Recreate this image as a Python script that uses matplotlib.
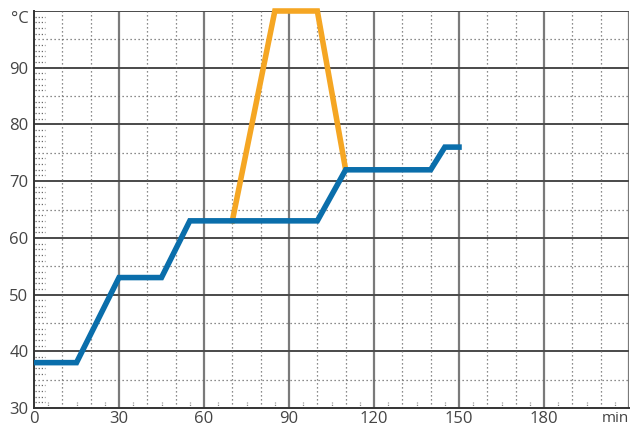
import matplotlib
matplotlib.use("Agg")
import matplotlib.pyplot as plt

blue_x = [0, 15, 30, 45, 55, 100, 110, 140, 145, 150]
blue_y = [38, 38, 53, 53, 63, 63, 72, 72, 76, 76]
orange_x = [70, 85, 100, 110]
orange_y = [63, 100, 100, 72]
x_ticks = [0, 30, 60, 90, 120, 150, 180]
y_ticks = [30, 40, 50, 60, 70, 80, 90]
x_unit = "min"
y_unit = "°C"

plt.rcParams['font.family'] = ['Open Sans', 'DejaVu Sans']
fig = plt.figure(figsize=(6.31, 4.28), dpi=100)
ax = fig.add_axes([34/631, 1-408/428, (629-34)/631, (408-11)/428])
ax.set_xlim(0, 210)
ax.set_ylim(30, 100)

# grids
for xv in range(30, 211, 30):
    ax.axvline(xv, color='#7a7a7a', lw=1.6, zorder=1)
for yv in range(40, 101, 10):
    ax.axhline(yv, color='#4a4a4a', lw=1.4, zorder=1)
for xv in range(10, 211, 10):
    if xv % 30:
        ax.axvline(xv, color='#666666', lw=0.9, ls=(0, (1, 2.2)), zorder=1)
for yv in range(35, 100, 10):
    ax.axhline(yv, color='#666666', lw=0.9, ls=(0, (1, 2.2)), zorder=1)
# small inner ticks
for yv in range(31, 100):
    if yv % 5:
        ax.plot([0.5, 4], [yv, yv], color='#666666', lw=0.9, ls=(0, (1, 1.5)), zorder=1)
for xv in range(5, 210, 10):
    ax.plot([xv, xv], [30, 31], color='#888888', lw=0.9, ls=(0, (1, 1)), zorder=1)

ax.plot(orange_x, orange_y, color='#f5a623', lw=4.0, solid_joinstyle='miter', zorder=3, clip_on=False)
ax.plot(blue_x, blue_y, color='#0a6eab', lw=4.0, solid_joinstyle='miter', zorder=4)

for s in ['top', 'right']:
    ax.spines[s].set_visible(False)
ax.spines['left'].set_color('#333333')
ax.spines['bottom'].set_color('#333333')
ax.spines['left'].set_linewidth(1.4)
ax.spines['bottom'].set_linewidth(1.4)

ax.set_xticks(x_ticks + [210])
ax.set_xticklabels([str(v) for v in x_ticks] + [x_unit])
ax.set_yticks(y_ticks + [100])
ax.set_yticklabels([str(v) for v in y_ticks] + [y_unit])
ax.tick_params(length=0, labelsize=12, labelcolor='#444444')
ax.tick_params(axis='x', pad=2)
ax.tick_params(axis='y', pad=4)
labs = ax.get_xticklabels()
labs[-1].set_horizontalalignment('right')
labs[-1].set_fontsize(11)
ylabs = ax.get_yticklabels()
ylabs[-1].set_verticalalignment('top')

fig.savefig('out.png', dpi=100)
